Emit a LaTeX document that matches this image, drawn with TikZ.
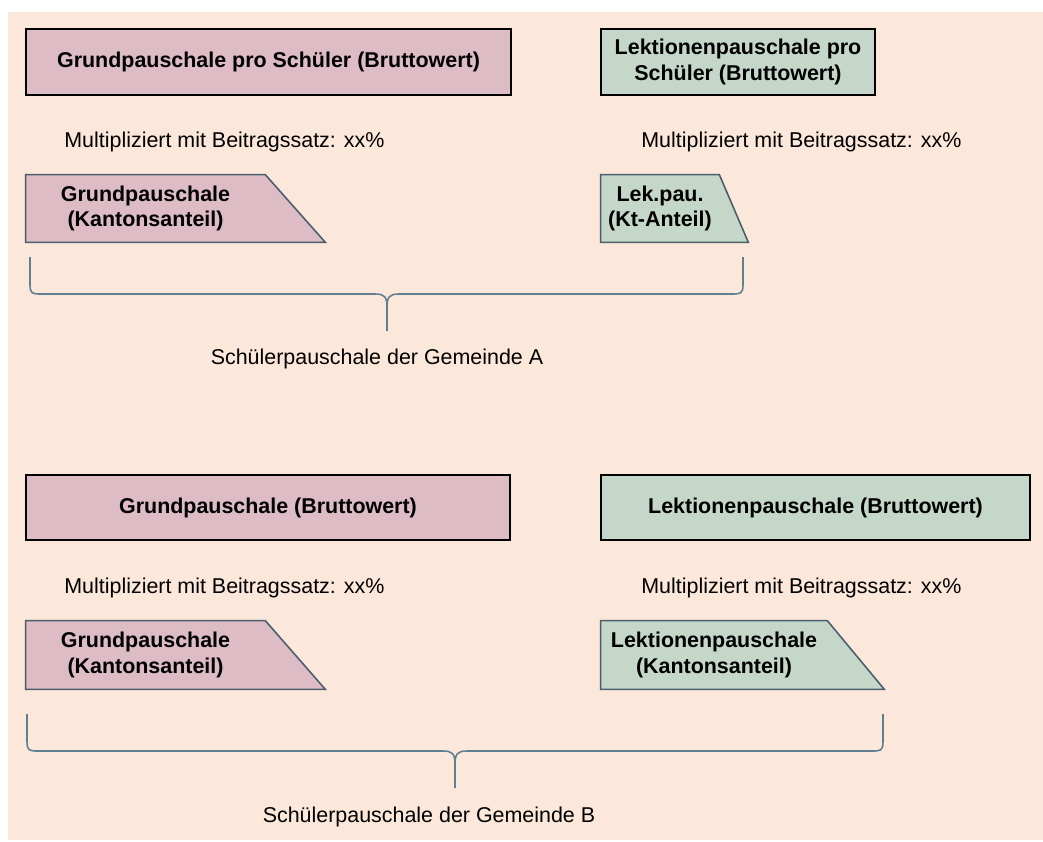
\documentclass[tikz,border=0pt]{standalone}
\usepackage{fontspec}
\setmainfont{Liberation Sans}
\usepackage{xcolor}
\usepackage{tikz}
\usetikzlibrary{positioning,backgrounds}
\definecolor{peach}{RGB}{252, 232, 218}
\definecolor{mauve}{RGB}{221, 188, 198}
\definecolor{sage}{RGB}{196, 215, 201}
\definecolor{slate}{RGB}{74, 94, 110}
\definecolor{steel}{RGB}{96, 127, 146}

\begin{document}
\begin{tikzpicture}[x=0.02cm, y=-0.02cm]
\tikzset{
  grossbox/.style={rectangle, draw=black, line width=1.15pt, minimum height=1.32cm,
    align=center, inner sep=0pt, font=\fontsize{12.2}{14.4}\selectfont\bfseries},
  kbody/.style={rectangle, minimum height=1.34cm, inner sep=0pt,
    align=center, font=\fontsize{12.2}{14.4}\selectfont\bfseries},
  trapline/.style={draw=slate, line width=0.9pt, line join=miter},
  multtxt/.style={anchor=west, inner sep=0pt, font=\fontsize{12.2}{14.4}\selectfont},
  sumtxt/.style={inner sep=0pt, font=\fontsize{12.2}{14.4}\selectfont},
  brace2/.style={draw=steel, line width=0.9pt}
}
\useasboundingbox (0,0) rectangle (1043,841);
% Gemeinde A
\node[grossbox, fill=mauve, minimum width=9.7cm]  (gpa) at (268.5,62) {Grundpauschale pro Schüler (Bruttowert)};
\node[grossbox, fill=sage,  minimum width=5.48cm] (lpa) at (738,62)   {Lektionenpauschale pro\\Schüler (Bruttowert)};
\node[multtxt] (mga) at (64,142)  {Multipliziert mit Beitragssatz: xx\%};
\node[multtxt] (mla) at (641,142) {Multipliziert mit Beitragssatz: xx\%};
\node[kbody, minimum width=4.78cm] (kga) at (145.5,208.5) {Grundpauschale\\(Kantonsanteil)};
\node[kbody, minimum width=2.36cm] (kla) at (660,208.5)   {Lek.pau.\\(Kt-Anteil)};
\draw[brace2] (30,257) -- (30,284) .. controls (30,294) and (32,294) .. (42,294) -- (375,294)
  .. controls (385,294) and (387,297) .. (387,308) -- (387,331);
\draw[brace2] (743,257) -- (743,284) .. controls (743,294) and (741,294) .. (731,294) -- (399,294)
  .. controls (389,294) and (387,297) .. (387,308);
\node[sumtxt] (suma) at (377,359) {Schülerpauschale der Gemeinde A};
% Gemeinde B
\node[grossbox, fill=mauve, minimum width=9.68cm, minimum height=1.3cm] (gpb) at (268,507.5)   {Grundpauschale (Bruttowert)};
\node[grossbox, fill=sage,  minimum width=8.58cm, minimum height=1.3cm] (lpb) at (815.5,507.5) {Lektionenpauschale (Bruttowert)};
\node[multtxt] (mgb) at (64,588)  {Multipliziert mit Beitragssatz: xx\%};
\node[multtxt] (mlb) at (641,588) {Multipliziert mit Beitragssatz: xx\%};
\node[kbody, minimum width=4.78cm, minimum height=1.36cm] (kgb) at (145.5,655) {Grundpauschale\\(Kantonsanteil)};
\node[kbody, minimum width=4.52cm, minimum height=1.36cm] (klb) at (714,655)   {Lektionenpauschale\\(Kantonsanteil)};
\draw[brace2] (27,714) -- (27,741) .. controls (27,751) and (29,751) .. (39,751) -- (443,751)
  .. controls (453,751) and (455,754) .. (455,765) -- (455,788);
\draw[brace2] (883,714) -- (883,741) .. controls (883,751) and (881,751) .. (871,751) -- (467,751)
  .. controls (457,751) and (455,754) .. (455,765);
\node[sumtxt] (sumb) at (429,817) {Schülerpauschale der Gemeinde B};
% Hintergrund und Trapeze
\begin{scope}[on background layer]
\fill[peach] (8,12) rectangle (1043,840);
\path[trapline, fill=mauve] (kga.north west) -- (kga.north east) -- ([xshift=1.2cm]kga.south east) -- (kga.south west) -- cycle;
\path[trapline, fill=sage]  (kla.north west) -- (kla.north east) -- ([xshift=0.58cm]kla.south east) -- (kla.south west) -- cycle;
\path[trapline, fill=mauve] (kgb.north west) -- (kgb.north east) -- ([xshift=1.2cm]kgb.south east) -- (kgb.south west) -- cycle;
\path[trapline, fill=sage]  (klb.north west) -- (klb.north east) -- ([xshift=1.14cm]klb.south east) -- (klb.south west) -- cycle;
\end{scope}
\end{tikzpicture}
\end{document}
